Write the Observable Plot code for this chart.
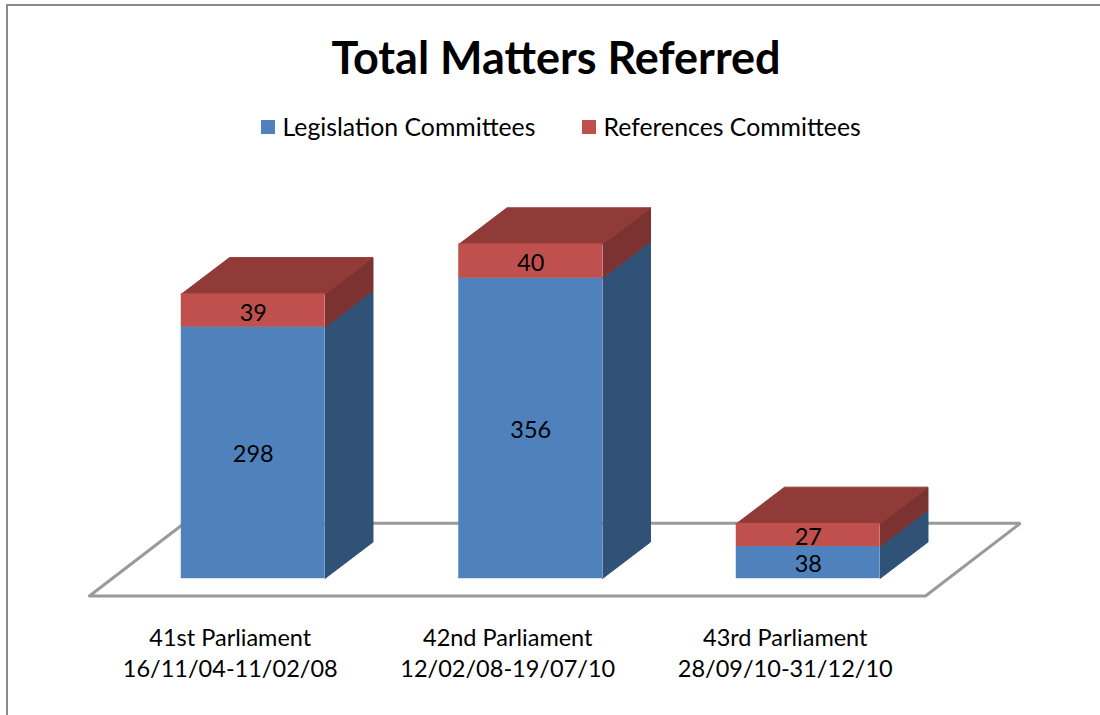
<!DOCTYPE html>
<html>
<head>
<meta charset="utf-8">
<script src="https://cdn.jsdelivr.net/npm/d3@7"></script>
<script src="https://cdn.jsdelivr.net/npm/@observablehq/plot@0.6"></script>
<style>
  html,body{margin:0;padding:0;background:#fff;}
  body{width:1100px;height:715px;overflow:hidden;font-family:Lato,"Open Sans",sans-serif;color:#000;}
  #frame{position:relative;box-sizing:border-box;margin:4px 0 0 6px;width:1094px;height:711px;border-top:2px solid #8a8a8a;border-left:2px solid #8a8a8a;}
  #head{position:absolute;left:-8px;top:-6px;width:1100px;}
  #title{font-size:45px;font-weight:700;text-align:center;margin:0;padding-left:12px;line-height:50px;padding-top:32px;height:50px;}
  #legend{position:absolute;top:112px;left:261px;height:30px;font-size:24.8px;line-height:30px;white-space:nowrap;}
  .item{position:absolute;top:0;display:block;}
  .sw{position:absolute;top:8px;width:14px;height:14px;}
  #chart{position:absolute;left:-8px;top:164px;}
  #chart svg{display:block;}
</style>
</head>
<body>
<div id="frame">
  <div id="head">
    <div id="title">Total Matters Referred</div>
    <div id="legend"></div>
  </div>
  <div id="chart"></div>
</div>
<script>
const categories = ["41st Parliament\n16/11/04-11/02/08", "42nd Parliament\n12/02/08-19/07/10", "43rd Parliament\n28/09/10-31/12/10"];
const legislation = [298, 356, 38];
const references = [39, 40, 27];
const seriesNames = ["Legislation Committees", "References Committees"];
const colors = {blue: "#4F81BD", red: "#C0504D", blueSide: "#315277", redSide: "#7C3230", redTop: "#913B39", floor: "#9a9a9a"};

// 3D projection expressed in data units
const barFrom = 0.328, barTo = 0.845;
const depthX = 0.173, depthY = 43.2;
const floorDepthX = 0.342, floorTopY = 65.5, floorFrontY = -20.7, floorStart = -0.004, floorEnd = 3.009;

const bars = categories.map((c, i) => ({
  i, c,
  x1: i + barFrom, x2: i + barTo, xm: i + (barFrom + barTo) / 2,
  leg: legislation[i], ref: references[i], total: legislation[i] + references[i]
}));

const poly = (id, pts) => pts.map(([x, y]) => ({id, x, y}));
const sideBlue = bars.flatMap(b => poly(b.i, [[b.x2, 0], [b.x2 + depthX, depthY], [b.x2 + depthX, b.leg + depthY], [b.x2, b.leg]]));
const sideRed = bars.flatMap(b => poly(b.i, [[b.x2, b.leg], [b.x2 + depthX, b.leg + depthY], [b.x2 + depthX, b.total + depthY], [b.x2, b.total]]));
const topRed = bars.flatMap(b => poly(b.i, [[b.x1, b.total], [b.x1 + depthX, b.total + depthY], [b.x2 + depthX, b.total + depthY], [b.x2, b.total]]));
const floor = poly(0, [[floorStart, floorFrontY], [floorEnd, floorFrontY], [floorEnd + floorDepthX, floorTopY], [floorStart + floorDepthX, floorTopY], [floorStart, floorFrontY]]);

const face = (data, fill) => Plot.line(data, {x: "x", y: "y", z: "id", fill, stroke: fill, strokeWidth: 1, curve: "linear"});

const plot = Plot.plot({
  width: 1100, height: 545,
  marginTop: 0, marginRight: 0, marginLeft: 0, marginBottom: 95,
  style: {fontFamily: "Lato, 'Open Sans', sans-serif", fontSize: "24px", color: "#000", background: "transparent"},
  x: {type: "linear", domain: [0, 3], range: [90, 922.5], axis: null},
  y: {domain: [-49.8, 483.4], range: [450, 0], axis: null},
  marks: [
    Plot.line(floor, {x: "x", y: "y", z: "id", stroke: colors.floor, strokeWidth: 3, strokeLinejoin: "miter", curve: "linear"}),
    face(sideBlue, colors.blueSide),
    face(sideRed, colors.redSide),
    face(topRed, colors.redTop),
    Plot.rectY(bars, {x1: "x1", x2: "x2", y1: 0, y2: "leg", fill: colors.blue, stroke: colors.blue, strokeWidth: 0.5}),
    Plot.rectY(bars, {x1: "x1", x2: "x2", y1: "leg", y2: "total", fill: colors.red, stroke: colors.red, strokeWidth: 0.5}),
    Plot.text(bars, {x: "xm", y: d => d.leg / 2, text: d => String(d.leg), fill: "#000", fontSize: 23.5, dy: 2}),
    Plot.text(bars, {x: "xm", y: d => d.leg + d.ref / 2, text: d => String(d.ref), fill: "#000", fontSize: 23.5, dy: 2.5}),
    Plot.axisX({
      anchor: "bottom",
      ticks: categories.map((c, i) => i + 0.5),
      tickFormat: v => categories[Math.floor(v)],
      tickSize: 0, tickPadding: 3, lineHeight: 1.33, fontSize: 23.5, dx: 1, label: null
    })
  ]
});
document.getElementById("chart").appendChild(plot);

const legend = document.getElementById("legend");
const swatches = [colors.blue, colors.red];
const legendLeft = [0, 321];
seriesNames.forEach((name, i) => {
  const item = document.createElement("div");
  item.className = "item";
  item.style.left = legendLeft[i] + "px";
  item.innerHTML = '<span class="sw" style="left:0;background:' + swatches[i] + '"></span><span style="margin-left:21.5px">' + name + '</span>';
  legend.appendChild(item);
});
</script>
</body>
</html>
